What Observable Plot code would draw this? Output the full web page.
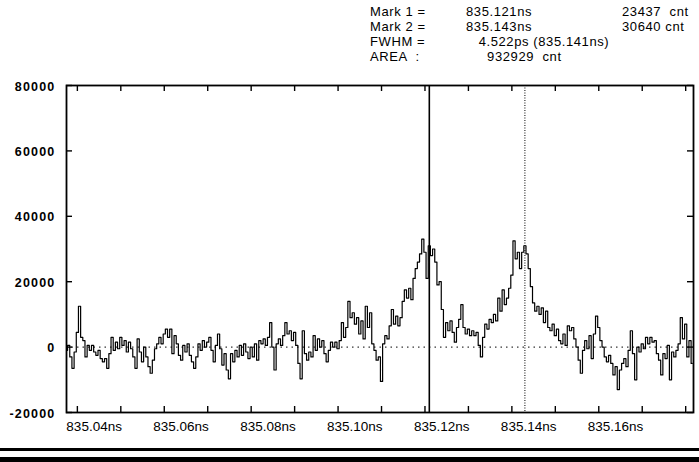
<!DOCTYPE html>
<html>
<head>
<meta charset="utf-8">
<script src="https://cdn.jsdelivr.net/npm/d3@7"></script>
<script src="https://cdn.jsdelivr.net/npm/@observablehq/plot@0.6"></script>
<style>
  body { margin: 0; background: #fff; }
  #wrap { position: relative; width: 699px; height: 462px; overflow: hidden; font-family: "Liberation Sans", Arial, sans-serif; color: #000; }
  #chart { position: absolute; left: 0; top: 0; }
  .hdr { position: absolute; font-size: 13px; letter-spacing: 0.6px; white-space: pre; line-height: 13px; height: 13px; }
  .rule { position: absolute; left: 0; width: 699px; background: #000; }
</style>
</head>
<body>
<div id="wrap">
  <div id="chart"></div>
</div>
<script>
// ---- Data ----
// Time base of the sampled trace (ns)
const traceStart = 835.0375;
const traceStep = 0.0005;
// Counts, in thousands, one per sample
const countsK = [
  -1, 0.5, -3, -6.5, -1.5, 4.5, 12.5, 3, 2, -3,
  0.5, -1, 0.5, -1.5, -2.5, -1, -3.5, -4.5, -3.5, -6.5,
  -2, 3, -1, 1.5, -0.5, 3, 0.5, 2, -1.5, 1.5,
  -0.5, -3, -6.5, 2.5, -1.5, -4.5, 0, -3, -6, -8,
  -4, -0.5, 1, 3, 1, 4, 5.5, 3, 5.5, -2,
  3.5, 1, -2.5, -4, 0.5, -1.5, 1, -2.5, -4.5, -6.5,
  -3, 1, -1, 2, 0, 1.5, 3, -1, -4.5, 0.5,
  4, -0.5, -5.5, -2, -7, -9.7, -2, -4.5, -1, -3,
  0.5, -2.5, 1, -1.5, -3.5, 0, -3, 1, -4, 2,
  1, 2.5, 0.5, 3, 7.5, 0, -7, 1, 2.5, 0.5,
  3.5, 7.5, 4, 5, 2, 4.5, 0.5, -5, -9.7, 5,
  -2, -4, -1.5, -3, 3.5, -1, 2.5, 0, 2, -2,
  -4.5, -1, 1.5, 0, 1.5, -0.5, 2, 7.5, 3, 6,
  14, 9, 10.5, 7, 9, 4, 8, 2.5, 12.5, 6,
  10.5, 1, -1, -4, -3, -10.5, 1, 3.5, 2.5, 6.5,
  11.5, 7, 9.5, 6.5, 9, 14, 17.5, 15, 18, 14.5,
  21, 24, 26, 28.5, 33, 29, 21, 31, 28, 30,
  26, 19, 20, 11.5, 3, 7.5, 5, 8, 4.5, 1.5,
  6, 8.5, 13, 6, 4, 5.5, 3.5, 5, 3.5, 4.5,
  0.5, -3, 3, 7, 5.5, 8.5, 7.5, 10, 8, 15,
  11, 17.5, 13, 15, 18, 22, 32.5, 27, 29, 24,
  29, 31, 28.5, 24, 18.5, 13.5, 11, 12.5, 10, 12,
  7.5, 11, 6, 5, 7, 3.5, 5.5, 2, 1, 4,
  0.5, 6.5, 5, 6, 2.5, 0, -4, -8, -1, 2,
  -0.5, 3.5, -3.5, 4, 9.5, 6, 2, 0, -3, -4.5,
  -2.5, -5, -8.5, -6, -13, -7, -5, -3.5, -6, -1,
  5, -2, -10, 0, -1.5, 1, -0.5, 3, 1, 3,
  1.5, 2, -2, -4, -8.5, -2, -3.5, 0.5, -10, -1.5,
  -3, -1, 1, 9, 2.5, 7, -3, 2, -5
];
// Axes
const xDomain = [835.0375, 835.1818];
const yDomain = [-20000, 80000];
const xTickValues = [835.04, 835.05, 835.06, 835.07, 835.08, 835.09, 835.10, 835.11, 835.12, 835.13, 835.14, 835.15, 835.16, 835.17, 835.18];
const xLabelValues = [835.04, 835.06, 835.08, 835.10, 835.12, 835.14, 835.16];
const yTickValues = [-20000, 0, 20000, 40000, 60000, 80000];
// Markers
const mark1 = 835.121;
const mark2 = 835.143;
// Header text
const headerRows = [
  ["Mark 1 =", "835.121ns", "23437  cnt"],
  ["Mark 2 =", "835.143ns", "30640 cnt"],
  ["FWHM =", "   4.522ps (835.141ns)", ""],
  ["AREA  :", "     932929  cnt", ""]
];

// ---- Build ----
const trace = countsK.map((k, i) => ({ t: traceStart + i * traceStep, c: k * 1000 }));

const W = 699, H = 462, mT = 85, mB = 50, mL = 66, mR = 6;
const pw = W - mL - mR, ph = H - mT - mB, tk = 6;

const chart = Plot.plot({
  width: W, height: H,
  marginTop: mT, marginBottom: mB, marginLeft: mL, marginRight: mR,
  style: { fontFamily: "'Liberation Sans', Arial, sans-serif", fontSize: "13.5px", color: "#000", background: "transparent", overflow: "visible" },
  x: { domain: xDomain, axis: null },
  y: { domain: yDomain, axis: null },
  marks: [
    Plot.ruleY([0], { stroke: "#000", strokeWidth: 1, strokeDasharray: "1.5,4" }),
    Plot.line(trace, { x: "t", y: "c", curve: "step", stroke: "#000", strokeWidth: 1.2 }),
    Plot.ruleX([mark1], { stroke: "#000", strokeWidth: 1.6 }),
    Plot.ruleX([mark2], { stroke: "#000", strokeWidth: 1, strokeDasharray: "1,1.5" }),
    // inward ticks bottom & top
    Plot.ruleX(xTickValues, { x: d => d, insetTop: ph - tk, stroke: "#000", strokeWidth: 1.4 }),
    Plot.ruleX(xTickValues, { x: d => d, insetBottom: ph - tk, stroke: "#000", strokeWidth: 1.4 }),
    // inward ticks left & right
    Plot.ruleY(yTickValues, { y: d => d, insetRight: pw - tk, stroke: "#000", strokeWidth: 1.4 }),
    Plot.ruleY(yTickValues, { y: d => d, insetLeft: pw - tk, stroke: "#000", strokeWidth: 1.4 }),
    Plot.frame({ stroke: "#000", strokeWidth: 1.8 }),
    // labels
    Plot.text(xLabelValues, { x: d => d, frameAnchor: "bottom", dy: 18, dx: -11, textAnchor: "start", text: d => d.toFixed(2) + "ns", fill: "#000" }),
    Plot.text(yTickValues, { y: d => d, frameAnchor: "left", dx: -11, dy: 1, textAnchor: "end", text: d => String(d), fill: "#000", fontWeight: "bold", fontSize: 12.5 })
  ]
});
chart.id = "chart";
document.getElementById("chart").replaceWith(chart);
chart.style.position = "absolute";
chart.style.left = "0";
chart.style.top = "0";
// letter spacing on the y labels
chart.querySelectorAll("text").forEach(t => {
  if (/^-?\d+$/.test(t.textContent)) t.setAttribute("letter-spacing", "1.2");
});

const wrap = document.getElementById("wrap");
const colX = [370, 466, 622];
const rowY = [5, 20, 35, 50];
headerRows.forEach((row, r) => {
  row.forEach((txt, c) => {
    if (!txt) return;
    const d = document.createElement("div");
    d.className = "hdr";
    d.textContent = txt;
    d.style.left = colX[c] + "px";
    d.style.top = rowY[r] + "px";
    wrap.appendChild(d);
  });
});
[[448, 3], [457, 5]].forEach(([top, h]) => {
  const d = document.createElement("div");
  d.className = "rule";
  d.style.top = top + "px";
  d.style.height = h + "px";
  wrap.appendChild(d);
});
</script>
</body>
</html>
